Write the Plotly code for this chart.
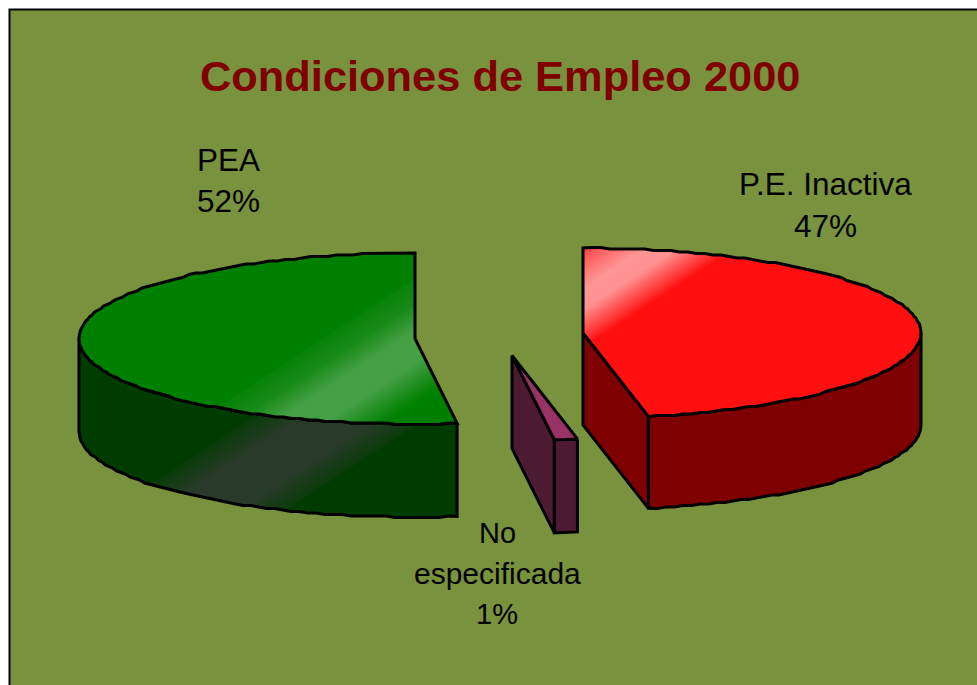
import math
import plotly.graph_objects as go

# ---- data ----
categories = ["P.E. Inactiva", "No especificada", "PEA"]
values = [46.9, 1.1, 52.0]
label_lines = [["P.E. Inactiva"], ["No", "especificada"], ["PEA"]]
title_text = "Condiciones de Empleo 2000"

# ---- styling / layout constants (pixel-space axes) ----
W, H = 977, 685
BG = "#78923E"
TOP_COLORS = ["#FF0F0F", "#993366", "#008000"]
SIDE_COLORS = ["#7F0000", "#4D1A33", "#003C00"]
CENTERS = [(583, 333), (512, 355.5), (415, 338.5)]
RX = [338, 338, 336]
RY = [85, 85, 85.5]
DEPTHS = [92, 93, 93]
LABEL_POS = [(825, 183.5), (497, 533), (228.5, 159.5)]
LABEL_SIZES = [[31.5, 31.5], [29, 30, 29], [31.5, 31.5]]
LINE_GAP = [42, 40.5, 41]
NORMAL = (0.548, 0.836)
# gradient stops: (t along NORMAL, colour) for top faces and sides
TOP_GRAD = [
    [(515, (255, 15, 15)), (535, (255, 90, 90)), (560, (255, 150, 150)),
     (578, (255, 145, 145)), (610, (255, 15, 15))],
    None,
    [(460, (8, 131, 8)), (480, (25, 138, 25)), (503, (69, 160, 69)),
     (530, (69, 160, 69)), (560, (8, 131, 8)), (565, (0, 128, 0))],
]
SIDE_GRAD = [
    None,
    None,
    [(487, (10, 60, 10)), (515, (42, 58, 42)), (555, (42, 58, 42)), (583, (10, 60, 10))],
]


def pt(i, theta, drop=0.0):
    cx, cy = CENTERS[i]
    a = math.radians(theta)
    return cx + RX[i] * math.sin(a), cy - RY[i] * math.cos(a) + drop


def arc(i, a0, a1, drop=0.0):
    """Elliptical arc; interior points snapped to a small grid like the low-res original."""
    n = max(1, int(abs(a1 - a0) / 1.5))
    pts = [pt(i, a0, drop)]
    for k in range(1, n):
        x, y = pt(i, a0 + (a1 - a0) * k / n, drop)
        pts.append((x, round(y / 1.5) * 1.5))
    pts.append(pt(i, a1, drop))
    return pts


def clip(poly, t0):
    out = []
    f = lambda p: NORMAL[0] * p[0] + NORMAL[1] * p[1] - t0
    for j, p in enumerate(poly):
        q = poly[(j + 1) % len(poly)]
        fp, fq = f(p), f(q)
        if fp >= 0:
            out.append(p)
        if (fp >= 0) != (fq >= 0):
            s = fp / (fp - fq)
            out.append((p[0] + s * (q[0] - p[0]), p[1] + s * (q[1] - p[1])))
    return out


fig = go.Figure()


def fill(poly, color):
    poly = list(poly)
    fig.add_trace(go.Scatter(
        x=[p[0] for p in poly] + [poly[0][0]],
        y=[p[1] for p in poly] + [poly[0][1]],
        mode="none", fill="toself", fillcolor=color,
        hoverinfo="skip", showlegend=False))


def outline(poly):
    poly = list(poly) + [poly[0]]
    fig.add_trace(go.Scatter(
        x=[p[0] for p in poly], y=[p[1] for p in poly], mode="lines",
        line=dict(color="black", width=3), hoverinfo="skip", showlegend=False))


def shaded(poly, base, grad):
    fill(poly, base)
    if not grad:
        return
    for (t0, c0), (t1, c1) in zip(grad, grad[1:]):
        steps = max(1, int((t1 - t0) / 2))
        for k in range(steps):
            s = k / steps
            t = t0 + (t1 - t0) * s
            col = tuple(round(a + (b - a) * s) for a, b in zip(c0, c1))
            part = clip(poly, t)
            if len(part) > 2:
                fill(part, "rgb(%d,%d,%d)" % col)
    end = clip(poly, grad[-1][0])
    if len(end) > 2:
        fill(end, base)


# slice angles derived from the values
total = sum(values)
angles, acc = [], 0.0
for v in values:
    angles.append((acc / total * 360, (acc + v) / total * 360))
    acc += v

for i, (a0, a1) in enumerate(angles):
    top = [CENTERS[i]] + arc(i, a0, a1)
    d = DEPTHS[i]
    # radial walls
    if 0 < a1 < 180:
        wall = [CENTERS[i], pt(i, a1), pt(i, a1, d), (CENTERS[i][0], CENTERS[i][1] + d)]
        fill(wall, SIDE_COLORS[i])
        outline(wall)
    if 180 < a0 < 360:
        wall = [CENTERS[i], pt(i, a0), pt(i, a0, d), (CENTERS[i][0], CENTERS[i][1] + d)]
        fill(wall, SIDE_COLORS[i])
        outline(wall)
    # outer rim (front half only)
    r0, r1 = max(a0, 90), min(a1, 270)
    if r1 > r0:
        rim = arc(i, r0, r1) + arc(i, r1, r0, d)
        shaded(rim, SIDE_COLORS[i], SIDE_GRAD[i])
        outline(rim)
    shaded(top, TOP_COLORS[i], TOP_GRAD[i])
    outline(top)

# labels
annotations = []
for (lx, ly), lines, v, sizes, gap in zip(LABEL_POS, label_lines, values, LABEL_SIZES, LINE_GAP):
    for k, txt in enumerate(lines + ["%.0f%%" % v]):
        annotations.append(dict(
            x=lx, y=ly + gap * k, text=txt, showarrow=False, xref="x", yref="y",
            xanchor="center", yanchor="middle",
            font=dict(family="Liberation Sans", size=sizes[k], color="black")))
annotations.append(dict(
    x=499.5, y=76, text="<b>%s</b>" % title_text, showarrow=False, xref="x", yref="y",
    xanchor="center", yanchor="middle",
    font=dict(family="Liberation Sans", size=43.4, color="#800000")))

fig.update_layout(
    width=W, height=H, margin=dict(l=0, r=0, t=0, b=0),
    paper_bgcolor="white", plot_bgcolor="white", showlegend=False,
    xaxis=dict(range=[0, W], visible=False, fixedrange=True),
    yaxis=dict(range=[H, 0], visible=False, fixedrange=True),
    annotations=annotations,
    shapes=[dict(type="rect", xref="x", yref="y", x0=9.5, y0=9.5, x1=W + 20, y1=H + 20,
                 fillcolor=BG, line=dict(color="black", width=2), layer="below")],
)
fig.write_html("out.html", post_script="document.body.style.margin='0';",
               config={"displayModeBar": False})
